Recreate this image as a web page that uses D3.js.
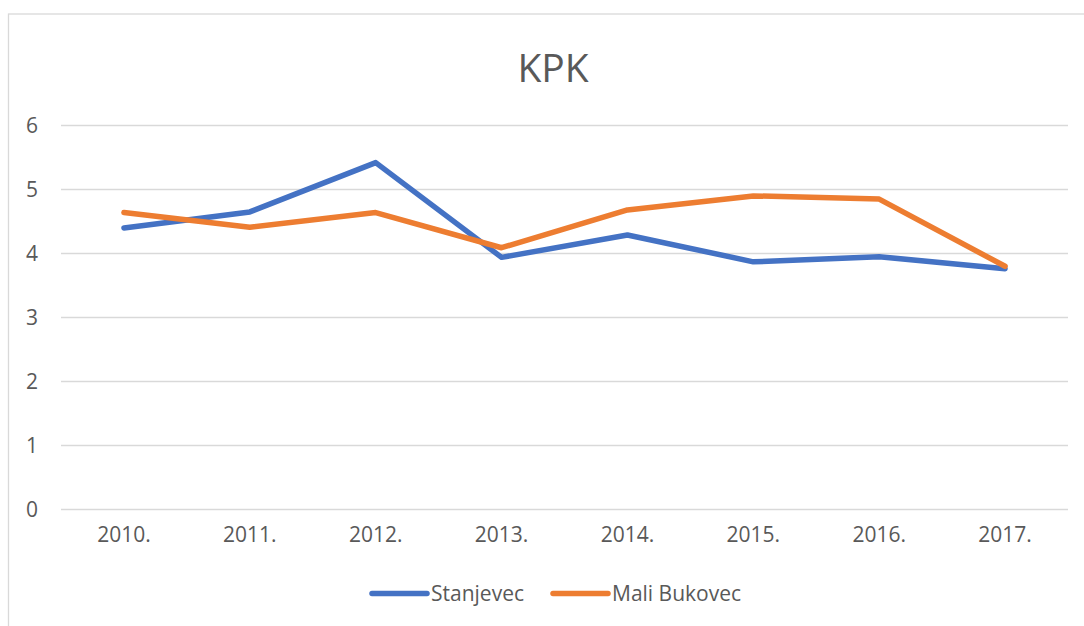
<!DOCTYPE html>
<html>
<head>
<meta charset="utf-8">
<script src="https://cdn.jsdelivr.net/npm/d3@7"></script>
<style>
    body { margin: 0; background: #fff; }
    text { font-family: "Open Sans", sans-serif; fill: #595959; }
</style>
</head>
<body>
<div id="chart"></div>
<script>
//Chart data
var years = ['2010.', '2011.', '2012.', '2013.', '2014.', '2015.', '2016.', '2017.'];
var stanjevec = [4.40, 4.65, 5.42, 3.94, 4.29, 3.87, 3.95, 3.76];
var maliBukovec = [4.64, 4.41, 4.64, 4.09, 4.68, 4.90, 4.85, 3.80];
var yTicks = [0, 1, 2, 3, 4, 5, 6];
var seriesNames = ['Stanjevec', 'Mali Bukovec'];
var colors = ['#4472C4', '#ED7D31'];

var width = 1084;
var height = 626;
var margin = {
    left: 61,
    right: 16,
    top: 125.5,
    bottom: 116.5
};

var svg = d3.select('#chart').append('svg')
    .attr('width', width)
    .attr('height', height);

//Chart area border (runs off the right and bottom edge)
svg.append('rect')
    .attr('x', 8.5)
    .attr('y', 14)
    .attr('width', 1089)
    .attr('height', 640)
    .attr('fill', 'none')
    .attr('stroke', '#d9d9d9')
    .attr('stroke-width', 1.3);

var x = d3.scaleBand()
    .domain(years)
    .range([margin.left, width - margin.right]);

var y = d3.scaleLinear()
    .domain([0, 6])
    .range([height - margin.bottom, margin.top]);

//Gridlines
svg.append('g')
    .selectAll('line')
    .data(yTicks)
    .enter().append('line')
    .attr('x1', margin.left)
    .attr('x2', width - margin.right)
    .attr('y1', function(d) { return y(d); })
    .attr('y2', function(d) { return y(d); })
    .attr('stroke', '#d9d9d9')
    .attr('stroke-width', 1.4);

//Y axis labels
var yAxis = svg.append('g')
    .attr('transform', 'translate(' + 38 + ',0)')
    .call(d3.axisLeft(y).tickValues(yTicks).tickFormat(d3.format('d')).tickSize(0).tickPadding(0));
yAxis.select('.domain').remove();
yAxis.selectAll('text')
    .attr('font-size', 21)
    .style('font-family', '"Open Sans", sans-serif')
    .style('fill', '#595959');

//X axis labels
var xAxis = svg.append('g')
    .attr('transform', 'translate(0,' + (height - margin.bottom) + ')')
    .call(d3.axisBottom(x).tickSize(0).tickPadding(18));
xAxis.select('.domain').remove();
xAxis.selectAll('text')
    .attr('font-size', 21)
    .style('font-family', '"Open Sans", sans-serif')
    .style('fill', '#595959');

//Lines
var line = d3.line()
    .x(function(d, i) { return x(years[i]) + x.bandwidth() / 2; })
    .y(function(d) { return y(d); });

[stanjevec, maliBukovec].forEach(function(values, i) {
    svg.append('path')
        .datum(values)
        .attr('d', line)
        .attr('fill', 'none')
        .attr('stroke', colors[i])
        .attr('stroke-width', 5.5)
        .attr('stroke-linejoin', 'round')
        .attr('stroke-linecap', 'round');
});

//Title
svg.append('text')
    .attr('x', 553)
    .attr('y', 82)
    .attr('text-anchor', 'middle')
    .attr('font-size', 39)
    .text('KPK');

//Legend
var legendX = [372, 553];
var legend = svg.append('g')
    .selectAll('g')
    .data(seriesNames)
    .enter().append('g')
    .attr('transform', function(d, i) { return 'translate(' + legendX[i] + ',593.5)'; });

legend.append('line')
    .attr('x1', 0)
    .attr('x2', 55)
    .attr('stroke', function(d, i) { return colors[i]; })
    .attr('stroke-width', 5.5)
    .attr('stroke-linecap', 'round');

legend.append('text')
    .attr('x', 59)
    .attr('y', 7.5)
    .attr('font-size', 21)
    .text(function(d) { return d; });
</script>
</body>
</html>
